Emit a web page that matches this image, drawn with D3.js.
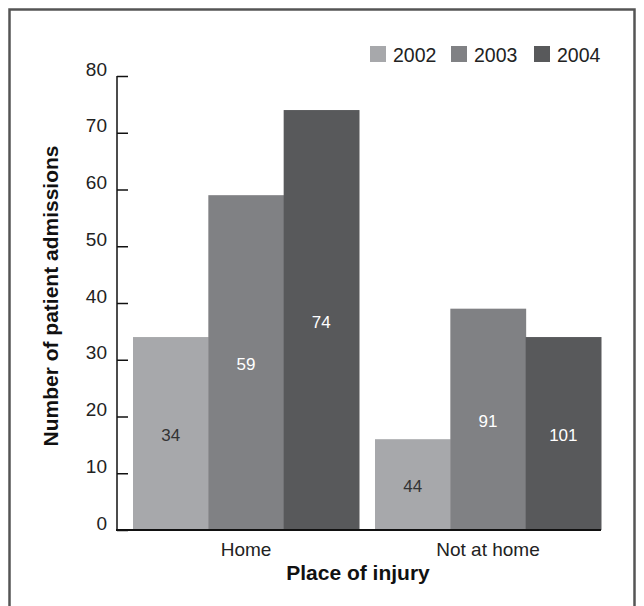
<!DOCTYPE html>
<html><head><meta charset="utf-8">
<script src="https://cdn.jsdelivr.net/npm/d3@7"></script>
<style>
html,body{margin:0;padding:0;background:#fff;}
svg{display:block;font-family:"Liberation Sans",Arial,Helvetica,sans-serif;}
</style></head>
<body>
<svg id="chart" width="644" height="606"></svg>
<script>
const categories = ["Home", "Not at home"];
const years = ["2002", "2003", "2004"];
const values2002 = [34, 16];
const values2003 = [59, 39];
const values2004 = [74, 34];
const labels2002 = ["34", "44"];
const labels2003 = ["59", "91"];
const labels2004 = ["74", "101"];
const yTicks = [0, 10, 20, 30, 40, 50, 60, 70, 80];
const colors = ["#a7a8ab", "#808184", "#58595b"];
const labelColors = ["#333333", "#ffffff", "#ffffff"];

const seriesVals = [values2002, values2003, values2004];
const seriesLabels = [labels2002, labels2003, labels2004];
const data = categories.map((c, i) => ({
  cat: c,
  bars: years.map((y, j) => ({year: y, value: seriesVals[j][i], label: seriesLabels[j][i], j}))
}));

const svg = d3.select("#chart");
const FONT = "Liberation Sans, Arial, Helvetica, sans-serif";

// frame
svg.append("rect").attr("x", 9.5).attr("y", 9.5).attr("width", 625).attr("height", 620)
  .attr("fill", "none").attr("stroke", "#555").attr("stroke-width", 2.5);

const y = d3.scaleLinear().domain([0, 80]).range([530, 76]);
const x0 = d3.scaleBand().domain(categories).range([125, 609]).paddingInner(16/242).paddingOuter(8/242);
const x1 = d3.scaleBand().domain(years).range([0, x0.bandwidth()]);

const g = svg.append("g");
g.selectAll("g.grp").data(data).join("g")
  .attr("class", "grp")
  .attr("transform", d => `translate(${x0(d.cat)},0)`)
  .each(function(d) {
    const gg = d3.select(this);
    gg.selectAll("rect").data(d.bars).join("rect")
      .attr("x", b => x1(b.year))
      .attr("y", b => y(b.value))
      .attr("width", x1.bandwidth() + 0.5)
      .attr("height", b => y(0) - y(b.value))
      .attr("fill", b => colors[b.j]);
    gg.selectAll("text").data(d.bars).join("text")
      .attr("x", b => x1(b.year) + x1.bandwidth() / 2)
      .attr("y", b => (y(b.value) + y(0)) / 2 + 3)
      .attr("text-anchor", "middle")
      .attr("dominant-baseline", "middle")
      .attr("font-size", 17)
      .attr("fill", b => labelColors[b.j])
      .text(b => b.label);
  });

// y axis
const yAxis = svg.append("g").attr("transform", "translate(117,0)")
  .call(d3.axisRight(y).tickValues(yTicks).tickSize(11).tickFormat(d3.format("d")));
yAxis.select(".domain").attr("stroke", "#111").attr("stroke-width", 1.5).attr("d", `M0,${y(80)}V${y(0)}`);
yAxis.selectAll(".tick line").attr("stroke", "#111").attr("stroke-width", 1.5);
yAxis.selectAll(".tick text").attr("x", -10).attr("dy", "-0.05em").attr("text-anchor", "end")
  .attr("font-size", 19).attr("fill", "#222").attr("font-family", FONT);

// x axis
const xAxis = svg.append("g").attr("transform", "translate(0,530)")
  .call(d3.axisBottom(x0).tickSize(0).tickPadding(13));
xAxis.select(".domain").attr("stroke", "#111").attr("stroke-width", 2).attr("d", "M116,0H601");
xAxis.selectAll(".tick text").attr("font-size", 19).attr("fill", "#222").attr("font-family", FONT);

// axis titles
svg.append("text").attr("x", 358).attr("y", 580).attr("text-anchor", "middle")
  .attr("font-size", 21).attr("font-weight", "bold").attr("fill", "#111").text("Place of injury");
svg.append("text").attr("transform", "translate(58,296) rotate(-90)").attr("text-anchor", "middle")
  .attr("font-size", 21).attr("font-weight", "bold").attr("fill", "#111").text("Number of patient admissions");

// legend
const legendX = [370, 451, 534];
const leg = svg.append("g");
years.forEach((yr, j) => {
  leg.append("rect").attr("x", legendX[j]).attr("y", 46).attr("width", 16).attr("height", 16).attr("fill", colors[j]);
  leg.append("text").attr("x", legendX[j] + 23).attr("y", 62).attr("font-size", 19.5).attr("fill", "#222").text(yr);
});
</script>
</body></html>
